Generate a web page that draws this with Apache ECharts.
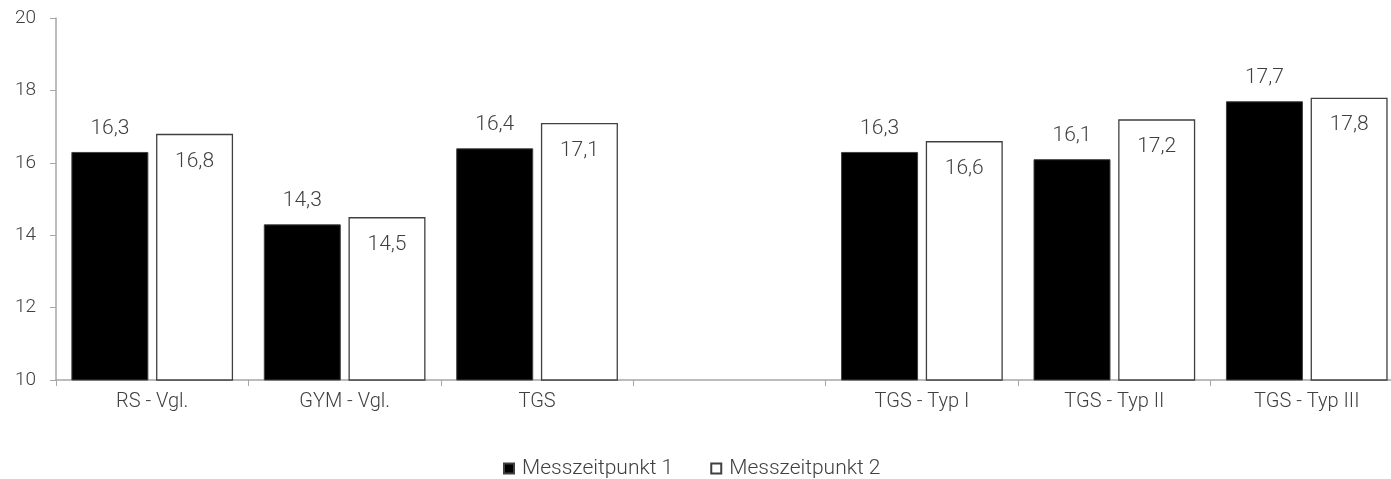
<!DOCTYPE html>
<html>
<head>
<meta charset="utf-8">
<script src="https://cdn.jsdelivr.net/npm/echarts@6/dist/echarts.min.js"></script>
<style>
  html, body { margin: 0; padding: 0; background: #fff; }
  #chart { width: 1391px; height: 479px; }
</style>
</head>
<body>
<div id="chart"></div>
<script>
// Gruppen auf der x-Achse (leere Lücke zwischen TGS und den TGS-Typen)
const categories = ['RS - Vgl.', 'GYM - Vgl.', 'TGS', '', 'TGS - Typ I', 'TGS - Typ II', 'TGS - Typ III'];
const seriesNames = ['Messzeitpunkt 1', 'Messzeitpunkt 2'];
const mzp1 = [16.3, 14.3, 16.4, null, 16.3, 16.1, 17.7];
const mzp2 = [16.8, 14.5, 17.1, null, 16.6, 17.2, 17.8];
const yTicks = { min: 10, max: 20, interval: 2 };

const textColor = '#404040';
const axisColor = '#a6a6a6';
const fontFamily = 'Roboto, "Noto Sans", sans-serif';
const fmt = p => String(p.value).replace('.', ',');

const chart = echarts.init(document.getElementById('chart'), null, { renderer: 'canvas' });
chart.setOption({
  animation: false,
  textStyle: { fontFamily: fontFamily, fontWeight: 300, color: textColor },
  // the plot runs a little past the right edge of the canvas
  grid: { left: 56, width: 1347, top: 18, height: 362, containLabel: false, outerBoundsMode: 'none' },
  legend: {
    top: 453,
    left: 498,
    itemWidth: 10,
    itemHeight: 10,
    itemGap: 37,
    icon: 'rect',
    textStyle: { fontSize: 21, color: textColor, fontFamily: fontFamily, fontWeight: 300, padding: [0, 0, 0, 3] },
    data: seriesNames
  },
  xAxis: {
    type: 'category',
    data: categories,
    axisLine: { lineStyle: { color: axisColor, width: 1.5 } },
    axisTick: { show: true, alignWithLabel: false, length: 6, lineStyle: { color: axisColor } },
    axisLabel: { fontSize: 20, color: textColor, fontFamily: fontFamily, fontWeight: 300, margin: 12 },
    splitLine: { show: false }
  },
  yAxis: {
    type: 'value',
    min: yTicks.min,
    max: yTicks.max,
    interval: yTicks.interval,
    axisLine: { show: true, lineStyle: { color: axisColor, width: 1.5 } },
    axisTick: { show: true, length: 6, lineStyle: { color: axisColor } },
    axisLabel: { fontSize: 19, color: textColor, fontFamily: fontFamily, fontWeight: 300, margin: 20 },
    splitLine: { show: false }
  },
  series: [
    {
      name: seriesNames[0],
      type: 'bar',
      data: mzp1,
      barWidth: 77,
      barGap: '10%',
      itemStyle: { color: '#000', borderColor: '#404040', borderWidth: 1 },
      label: {
        show: true, position: 'top', distance: 13, formatter: fmt,
        fontSize: 21, color: textColor, fontFamily: fontFamily, fontWeight: 300
      }
    },
    {
      name: seriesNames[1],
      type: 'bar',
      data: mzp2,
      barWidth: 77,
      itemStyle: { color: '#fff', borderColor: '#404040', borderWidth: 1.3 },
      label: {
        show: true, position: 'insideTop', distance: 17, formatter: fmt,
        fontSize: 21, color: textColor, fontFamily: fontFamily, fontWeight: 300
      }
    }
  ]
});
</script>
</body>
</html>
